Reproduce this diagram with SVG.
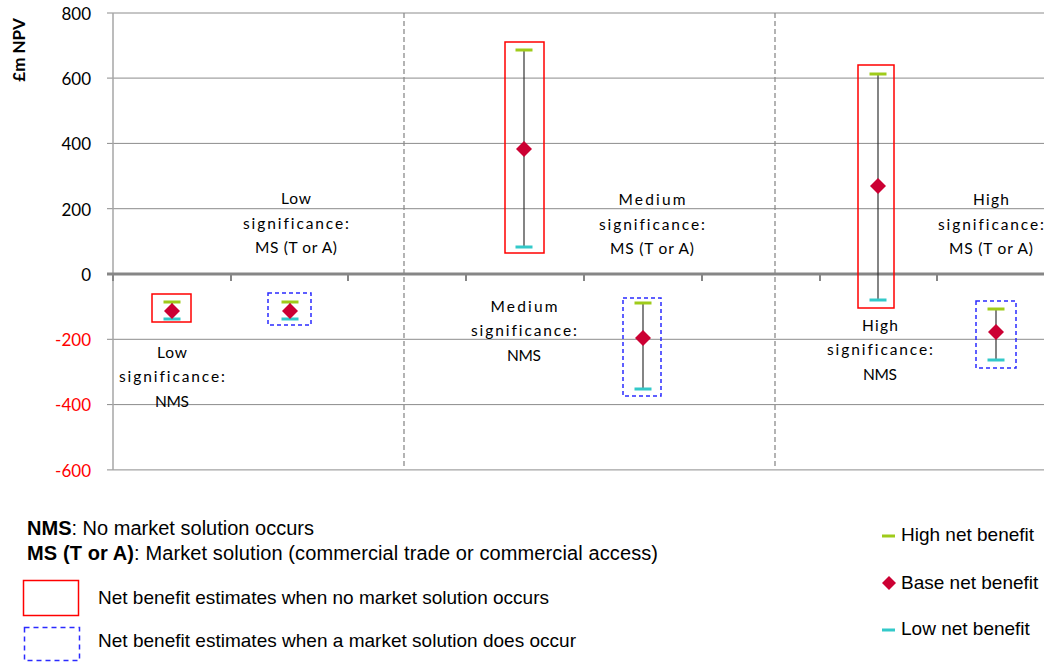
<svg xmlns="http://www.w3.org/2000/svg" width="1044" height="662" viewBox="0 0 1044 662">
<defs>
<style>
.grid{stroke:#8c8c8c;stroke-width:1;fill:none}
.axis{stroke:#a6a6a6;stroke-width:1.5;fill:none}
.zero{stroke:#868686;stroke-width:3;fill:none}
.tick{stroke:#868686;stroke-width:2;fill:none}
.sep{stroke:#8c8c8c;stroke-width:1.3;stroke-dasharray:5,3;fill:none}
.ylab{font-family:Lato,"Liberation Sans",sans-serif;font-size:17px;text-anchor:end}
.pos{fill:#000}
.neg{fill:#ff0000}
.cat{font-family:Lato,"Liberation Sans",sans-serif;font-size:15.5px;fill:#000;text-anchor:middle;font-variant-ligatures:none}
.bar{stroke:#333333;stroke-width:1.2}
.hi{stroke:#9fcb1a;stroke-width:3}
.lo{stroke:#33c9c9;stroke-width:3}
.base{fill:#cc0033}
.nms{fill:none;stroke:#ff0000;stroke-width:1.5}
.ms{fill:none;stroke:#2b2bff;stroke-width:1.5;stroke-dasharray:4,3}
.msleg{fill:none;stroke:#2b2bff;stroke-width:1.5;stroke-dasharray:5,4}
.leg{font-family:"Liberation Sans",Arial,sans-serif;font-size:19px;fill:#000}
.leg2{font-family:"Liberation Sans",Arial,sans-serif;font-size:20px;fill:#000}
</style>
</defs>

<g id="axes">
<line class="grid" x1="107" y1="13" x2="1044" y2="13"/>
<line class="grid" x1="107" y1="78.1" x2="1044" y2="78.1"/>
<line class="grid" x1="107" y1="143.4" x2="1044" y2="143.4"/>
<line class="grid" x1="107" y1="208.7" x2="1044" y2="208.7"/>
<line class="grid" x1="107" y1="339.3" x2="1044" y2="339.3"/>
<line class="grid" x1="107" y1="404.6" x2="1044" y2="404.6"/>
<line class="grid" x1="107" y1="469.9" x2="1044" y2="469.9"/>
<line class="axis" x1="113" y1="13" x2="113" y2="470"/>
<line class="sep" x1="404" y1="13" x2="404" y2="466"/>
<line class="sep" x1="775" y1="13" x2="775" y2="466"/>
<line class="zero" x1="107" y1="274" x2="1044" y2="274"/>
<line class="tick" x1="113" y1="274" x2="113" y2="281"/>
<line class="tick" x1="231" y1="274" x2="231" y2="281"/>
<line class="tick" x1="348" y1="274" x2="348" y2="281"/>
<line class="tick" x1="466" y1="274" x2="466" y2="281"/>
<line class="tick" x1="584" y1="274" x2="584" y2="281"/>
<line class="tick" x1="702" y1="274" x2="702" y2="281"/>
<line class="tick" x1="820" y1="274" x2="820" y2="281"/>
<line class="tick" x1="937" y1="274" x2="937" y2="281"/>
<text class="ylab pos" x="91" y="20">800</text>
<text class="ylab pos" x="91" y="85">600</text>
<text class="ylab pos" x="91" y="150">400</text>
<text class="ylab pos" x="91" y="216">200</text>
<text class="ylab pos" x="91" y="281">0</text>
<text class="ylab neg" x="91" y="346">-200</text>
<text class="ylab neg" x="91" y="411">-400</text>
<text class="ylab neg" x="91" y="477">-600</text>
<text transform="translate(25,50) rotate(-90)" style="font-family:Lato,'Liberation Sans',sans-serif;font-size:17px;font-weight:bold;text-anchor:middle">£m NPV</text>
</g>

<g id="connectors">
<line class="bar" x1="172" y1="302" x2="172" y2="319"/>
<line class="bar" x1="290" y1="302" x2="290" y2="319"/>
<line class="bar" x1="524" y1="50" x2="524" y2="247"/>
<line class="bar" x1="643" y1="303" x2="643" y2="389"/>
<line class="bar" x1="878" y1="74" x2="878" y2="300"/>
<line class="bar" x1="996" y1="309" x2="996" y2="360"/>
</g>

<g id="low-nms">
<rect class="nms" x="152" y="294" width="39" height="28"/>
<line class="hi" x1="163.5" y1="302" x2="180.5" y2="302"/>
<line class="lo" x1="163.5" y1="319" x2="180.5" y2="319"/>
<path class="base" d="M172 303 L180 311 L172 319 L164 311 Z"/>
<text class="cat" x="172" y="358" textLength="30">Low</text>
<text class="cat" x="172" y="382" textLength="106">significance:</text>
<text class="cat" x="172" y="407" textLength="34">NMS</text>
</g>

<g id="low-ms">
<rect class="ms" x="268" y="293" width="43" height="32"/>
<line class="hi" x1="281.5" y1="302" x2="298.5" y2="302"/>
<line class="lo" x1="281.5" y1="319" x2="298.5" y2="319"/>
<path class="base" d="M290 303 L298 311 L290 319 L282 311 Z"/>
<text class="cat" x="296" y="204" textLength="30">Low</text>
<text class="cat" x="296" y="229" textLength="106">significance:</text>
<text class="cat" x="296" y="253" textLength="82">MS (T or A)</text>
</g>

<g id="medium-nms">
<rect class="nms" x="505" y="42" width="39" height="211"/>
<line class="hi" x1="515.5" y1="50" x2="532.5" y2="50"/>
<line class="lo" x1="515.5" y1="247" x2="532.5" y2="247"/>
<path class="base" d="M524 141 L532 149 L524 157 L516 149 Z"/>
<text class="cat" x="524" y="312" textLength="67">Medium</text>
<text class="cat" x="524" y="336" textLength="106">significance:</text>
<text class="cat" x="524" y="361" textLength="34">NMS</text>
</g>

<g id="medium-ms">
<rect class="ms" x="623" y="298" width="38" height="98"/>
<line class="hi" x1="634.5" y1="303" x2="651.5" y2="303"/>
<line class="lo" x1="634.5" y1="389" x2="651.5" y2="389"/>
<path class="base" d="M643 330 L651 338 L643 346 L635 338 Z"/>
<text class="cat" x="652" y="205" textLength="67">Medium</text>
<text class="cat" x="652" y="230" textLength="106">significance:</text>
<text class="cat" x="652" y="254" textLength="84">MS (T or A)</text>
</g>

<g id="high-nms">
<rect class="nms" x="858" y="65" width="36" height="243"/>
<line class="hi" x1="869.5" y1="74" x2="886.5" y2="74"/>
<line class="lo" x1="869.5" y1="300" x2="886.5" y2="300"/>
<path class="base" d="M878 178 L886 186 L878 194 L870 186 Z"/>
<text class="cat" x="880" y="331" textLength="36">High</text>
<text class="cat" x="880" y="355" textLength="106">significance:</text>
<text class="cat" x="880" y="380" textLength="34">NMS</text>
</g>

<g id="high-ms">
<rect class="ms" x="976" y="301" width="40" height="67"/>
<line class="hi" x1="987.5" y1="309" x2="1004.5" y2="309"/>
<line class="lo" x1="987.5" y1="360" x2="1004.5" y2="360"/>
<path class="base" d="M996 324 L1004 332 L996 340 L988 332 Z"/>
<text class="cat" x="991" y="205" textLength="36">High</text>
<text class="cat" x="991" y="230" textLength="106">significance:</text>
<text class="cat" x="991" y="254" textLength="84">MS (T or A)</text>
</g>

<g id="legend-notes">
<text class="leg2" x="27" y="535" textLength="287"><tspan font-weight="bold">NMS</tspan>: No market solution occurs</text>
<text class="leg2" x="27" y="560" textLength="631"><tspan font-weight="bold">MS (T or A)</tspan>: Market solution (commercial trade or commercial access)</text>
</g>

<g id="legend-boxes">
<rect class="nms" x="23.5" y="580.5" width="55" height="35"/>
<text class="leg" x="98" y="604" textLength="451">Net benefit estimates when no market solution occurs</text>
<rect class="msleg" x="24.5" y="627.5" width="55" height="33"/>
<text class="leg" x="98" y="647" textLength="478">Net benefit estimates when a market solution does occur</text>
</g>

<g id="legend-series">
<line class="hi" x1="882" y1="536" x2="895" y2="536"/>
<text class="leg" x="901" y="541">High net benefit</text>
<path class="base" d="M889 576 L896 583 L889 590 L882 583 Z"/>
<text class="leg" x="901" y="589">Base net benefit</text>
<line class="lo" x1="882" y1="630" x2="895" y2="630"/>
<text class="leg" x="901" y="635">Low net benefit</text>
</g>
</svg>
